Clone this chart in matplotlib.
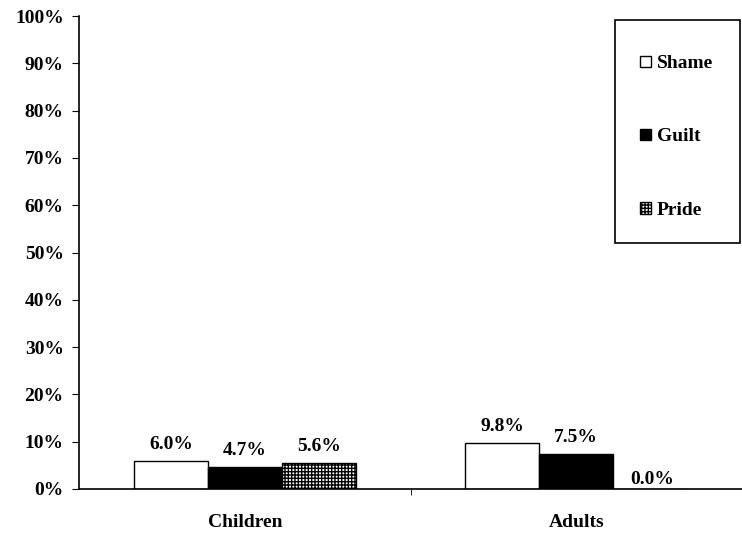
import matplotlib
matplotlib.use("Agg")
import matplotlib.pyplot as plt
import numpy as np
from matplotlib.ticker import FixedLocator
from matplotlib.patches import Rectangle

plt.rcParams['font.family'] = ['Liberation Serif', 'DejaVu Serif']
plt.rcParams['font.weight'] = 'bold'
plt.rcParams['hatch.linewidth'] = 1.0

categories = ["Children", "Adults"]
series = ["Shame", "Guilt", "Pride"]
shame = [6.0, 9.8]
guilt = [4.7, 7.5]
pride = [5.6, 0.0]
yticks = list(range(0, 101, 10))

FS = 14

fig = plt.figure(figsize=(7.42, 5.36), dpi=100)
ax = fig.add_axes([0.1065, 0.0877, 0.8935, 0.8823])

x = np.arange(len(categories))
w = 0.223
styles = [dict(facecolor="white", edgecolor="black", hatch=None),
          dict(facecolor="black", edgecolor="black", hatch=None),
          dict(facecolor="white", edgecolor="black", hatch="+++++")]
for i, (name, vals, st) in enumerate(zip(series, [shame, guilt, pride], styles)):
    ax.bar(x + (i - 1) * w, vals, w, label=name, linewidth=1.0, **st)
    for xi, v in zip(x + (i - 1) * w, vals):
        if v > 0:
            ax.text(xi, v + 1.6, f"{v:.1f}%", ha="center", va="bottom",
                    fontsize=FS, fontweight="bold")
        else:
            ax.text(xi + 0.005, v + 2.0, f"{v:.1f}%", ha="center", va="center",
                    fontsize=FS, fontweight="bold")

ax.set_xlim(-0.5, 1.5)
ax.set_ylim(0, 100)
ax.set_yticks(yticks)
ax.set_yticklabels([f"{t}%" for t in yticks], fontsize=FS, fontweight="bold")
ax.set_xticks(x)
ax.set_xticklabels(categories, fontsize=FS, fontweight="bold")
ax.xaxis.set_minor_locator(FixedLocator([0.5]))
ax.tick_params(axis="x", which="major", length=0, pad=18)
ax.tick_params(axis="x", which="minor", length=4, direction="out")
ax.tick_params(axis="y", length=5, direction="out", pad=6)
ax.spines["top"].set_visible(False)
ax.spines["right"].set_visible(False)
ax.spines["left"].set_linewidth(1.2)
ax.spines["bottom"].set_linewidth(1.2)

leg = ax.legend(loc="upper left", bbox_to_anchor=(615 / 742, 1 - 30 / 536),
                bbox_transform=fig.transFigure, frameon=False, fontsize=FS,
                handlelength=0.55, handleheight=0.55, handletextpad=0.3,
                labelspacing=2.89, borderpad=1.3, borderaxespad=0)
fig.patches.append(Rectangle((615 / 742, 1 - 243 / 536), 125 / 742, 223 / 536,
                             transform=fig.transFigure, fill=False,
                             edgecolor="black", linewidth=1.2))

fig.savefig("out.png", dpi=100)
